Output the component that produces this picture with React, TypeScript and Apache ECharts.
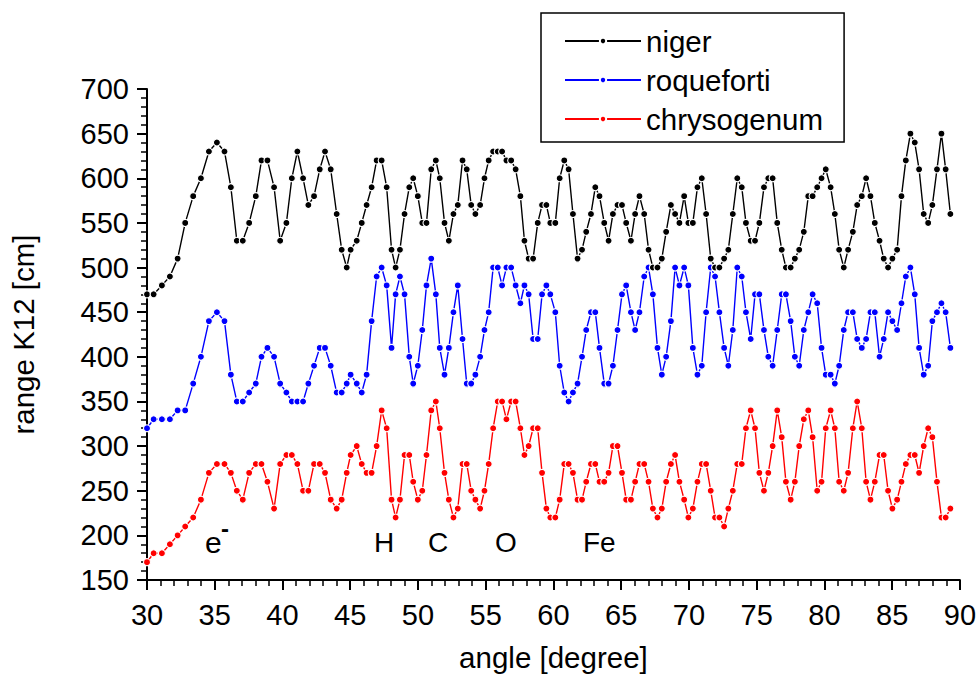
import React, { useEffect, useRef } from 'react';
import * as echarts from 'echarts';

// angle [degree] of each measured point (shared by all three series)
const angles = [
  30.0, 30.49, 31.1, 31.69, 32.26, 32.82, 33.41, 33.98, 34.57, 35.16, 35.72, 36.19, 36.63, 37.07, 37.54, 38.03, 38.45,
  38.89, 39.38, 39.83, 40.29, 40.69, 41.1, 41.52, 41.91, 42.33, 42.75, 43.14, 43.56, 44.0, 44.37, 44.74, 45.03,
  45.48, 45.85, 46.21, 46.58, 46.95, 47.32, 47.69, 48.05, 48.35, 48.67, 49.01, 49.36, 49.65, 49.99, 50.32, 50.63,
  50.98, 51.32, 51.61, 51.96, 52.28, 52.62, 52.94, 53.29, 53.6, 53.93, 54.24, 54.59, 54.91, 55.22, 55.55, 55.89,
  56.21, 56.53, 56.88, 57.21, 57.56, 57.86, 58.17, 58.5, 58.84,
  59.16, 59.48, 59.77, 60.14, 60.46, 60.8, 61.12, 61.44, 61.78, 62.11, 62.42, 62.77, 63.09, 63.4, 63.75, 64.07,
  64.39, 64.73, 65.06, 65.37, 65.72, 66.03, 66.35, 66.7, 67.02, 67.34, 67.68, 68.0, 68.32, 68.67, 68.98, 69.3,
  69.65, 69.96, 70.29, 70.63, 70.95, 71.27, 71.61, 71.93, 72.25, 72.6, 72.91, 73.24, 73.57,
  73.9, 74.21, 74.56, 74.88, 75.2, 75.54, 75.86, 76.18, 76.52, 76.85, 77.16, 77.51, 77.82, 78.14, 78.48, 78.81,
  79.13, 79.47, 79.79, 80.1, 80.46, 80.77, 81.09, 81.43, 81.75, 82.1, 82.42, 82.76, 83.08, 83.4, 83.72, 84.07,
  84.38, 84.7, 85.02, 85.37, 85.69, 86.01, 86.35, 86.67, 86.99, 87.33, 87.66, 87.97, 88.31, 88.64, 88.95, 89.3,
];

const niger = [
  470, 470, 480, 490, 510, 550, 580, 600, 630, 640, 630, 590, 530, 530, 550, 580, 620, 620, 590, 530, 550, 600, 630,
  600, 570, 580, 610, 630, 610, 560, 520, 500, 520,
  530, 550, 570, 590, 620, 620, 590, 520, 500, 520, 560, 590, 600, 580, 550, 550, 610, 620, 600, 550, 530, 560, 570,
  620, 610, 570, 560, 570, 600, 620, 630, 630, 630, 620, 620, 610, 580, 530, 510, 510, 550,
  570, 570, 550, 550, 600, 620, 610, 560, 510, 520, 540, 560, 590, 580, 550, 530, 560, 570, 570, 550, 530, 560, 580,
  560, 520, 500, 500, 510, 540, 570, 560, 550, 580, 550, 550, 590, 600, 560, 510, 500, 500, 510, 520, 560, 600,
  590, 550, 530, 530, 550, 590, 600, 600, 550, 520, 500, 500, 510, 520, 540, 580, 580, 590, 600, 610, 590, 560, 520,
  500, 520, 540, 570, 580, 600, 580, 550, 530, 510, 500, 510, 520, 580, 620, 650, 640, 610, 560, 550, 570, 610, 650,
  610, 560,
];

const roqueforti = [
  320, 330, 330, 330, 340, 340, 370, 400, 440, 450, 440, 380, 350, 350, 360, 370, 400, 410, 400, 370, 360, 350, 350,
  350, 370, 390, 410, 410, 390, 360, 360, 370, 380,
  370, 360, 380, 440, 490, 500, 480, 410, 470, 490, 470, 400, 370, 390, 430, 480, 510, 470, 410, 380, 410, 450, 480,
  420, 370, 370, 380, 400, 430, 450, 500, 500, 480, 500, 500, 480, 460, 480, 470, 420, 420,
  470, 480, 470, 450, 390, 360, 350, 360, 370, 400, 430, 450, 450, 410, 370, 370, 390, 430, 470, 480, 450, 430, 450,
  490, 500, 470, 410, 380, 400, 440, 500, 480, 500, 480, 410, 380, 390, 450, 500, 490, 450, 410, 390, 430, 500,
  490, 450, 420, 470, 470, 430, 400, 390, 430, 470, 470, 440, 400, 390, 430, 450, 470, 460, 410, 380, 380, 370, 390,
  430, 450, 450, 420, 410, 420, 450, 450, 400, 420, 450, 440, 430, 460, 490, 500, 470, 410, 380, 390, 440, 450, 460,
  450, 410,
];

const chrysogenum = [
  170, 180, 180, 190, 200, 210, 220, 240, 270, 280, 280, 270, 250, 240, 270, 280, 280, 260, 230, 280, 290, 290, 280,
  250, 250, 280, 280, 270, 240, 230, 240, 270, 290,
  300, 280, 270, 270, 300, 340, 320, 240, 220, 240, 290, 290, 260, 240, 250, 290, 340, 350, 320, 270, 240, 220, 230,
  280, 280, 250, 240, 230, 250, 280, 320, 350, 350, 330, 350, 350, 320, 290, 300, 320, 320,
  270, 230, 220, 220, 240, 280, 280, 270, 240, 240, 260, 280, 280, 260, 260, 270, 300, 300, 270, 240, 240, 260, 280,
  280, 260, 230, 220, 230, 260, 280, 290, 260, 240, 220, 230, 260, 280, 280, 250, 220, 220, 210, 230, 250, 280,
  280, 320, 340, 320, 270, 250, 270, 300, 340, 310, 260, 240, 260, 300, 330, 340, 310, 250, 260, 320, 340, 320, 260,
  250, 270, 320, 350, 320, 260, 240, 260, 290, 290, 250, 230, 240, 260, 280, 290, 290, 270, 300, 320, 310, 260, 220,
  220, 230,
];

const seriesNames = ['niger', 'roqueforti', 'chrysogenum'];
const seriesColors = ['#000000', '#0000ff', '#ff0000'];
const seriesValues = [niger, roqueforti, chrysogenum];

// peak annotations (text + pixel anchor)
const peakLabels = ['H', 'C', 'O', 'Fe'];
const peakLabelX = [374, 428, 495, 583];

const FONT = '"Liberation Sans", Arial, Helvetica, sans-serif';

export default function App() {
  const ref = useRef<HTMLDivElement>(null);

  useEffect(() => {
    if (!ref.current) return;
    const chart = echarts.init(ref.current, undefined, { renderer: 'svg' });

    const axisCommon = {
      type: 'value' as const,
      nameLocation: 'middle' as const,
      nameTextStyle: { fontSize: 29.5, color: '#000', fontFamily: FONT },
      axisLine: { show: true, lineStyle: { color: '#000', width: 2 } },
      axisTick: { show: true, inside: false, length: 10, lineStyle: { color: '#000', width: 2 } },
      minorTick: { show: true, splitNumber: 5, length: 6, lineStyle: { color: '#000', width: 1.5 } },
      splitLine: { show: false },
      minorSplitLine: { show: false },
    };

    const series = seriesNames.map((name, s) => ({
      name,
      type: 'line' as const,
      data: angles.map((a, i) => [a, seriesValues[s][i]]),
      symbol: 'circle',
      symbolSize: 7,
      showAllSymbol: true,
      lineStyle: { color: seriesColors[s], width: 1.4 },
      itemStyle: { color: seriesColors[s], borderColor: '#ffffff', borderWidth: 1.1 },
      emphasis: { disabled: true },
      z: 3 - s,
    }));

    const graphic: any[] = [
      {
        type: 'text',
        x: 205,
        y: 542,
        style: { text: 'e', fontSize: 30, fontFamily: FONT, fill: '#000', verticalAlign: 'middle', align: 'left' },
      },
      {
        type: 'text',
        x: 221,
        y: 528,
        style: {
          text: '-',
          fontSize: 24,
          fontWeight: 'bold',
          fontFamily: FONT,
          fill: '#000',
          verticalAlign: 'middle',
          align: 'left',
        },
      },
      ...peakLabels.map((t, i) => ({
        type: 'text',
        x: peakLabelX[i],
        y: 542,
        style: { text: t, fontSize: 28, fontFamily: FONT, fill: '#000', verticalAlign: 'middle', align: 'left' },
      })),
    ];

    chart.setOption({
      animation: false,
      backgroundColor: '#ffffff',
      textStyle: { fontFamily: FONT },
      grid: { left: 146, right: 19, top: 89, bottom: 95, containLabel: false },
      xAxis: {
        ...axisCommon,
        min: 30,
        max: 90,
        interval: 5,
        name: 'angle [degree]',
        nameGap: 62,
        axisLabel: { fontSize: 29, color: '#000', margin: 20, fontFamily: FONT, showMaxLabel: true, showMinLabel: true },
      },
      yAxis: {
        ...axisCommon,
        min: 150,
        max: 700,
        interval: 50,
        name: 'range K12 [cm]',
        nameGap: 109,
        axisLabel: { fontSize: 29, color: '#000', margin: 18, fontFamily: FONT, showMaxLabel: true, showMinLabel: true },
      },
      legend: {
        orient: 'vertical',
        left: 541,
        top: 13,
        padding: [13, 21, 8, 23],
        itemWidth: 76,
        itemHeight: 8,
        itemGap: 9,
        borderColor: '#000',
        borderWidth: 1.5,
        backgroundColor: '#ffffff',
        selectedMode: false,
        textStyle: { fontSize: 29.5, color: '#000', fontFamily: FONT, lineHeight: 30 },
        data: seriesNames,
      },
      graphic,
      series,
    });

    return () => {
      chart.dispose();
    };
  }, []);

  return (
    <div
      ref={ref}
      style={{ position: 'absolute', left: 0, top: 0, width: 979, height: 677, background: '#fff' }}
    />
  );
}
